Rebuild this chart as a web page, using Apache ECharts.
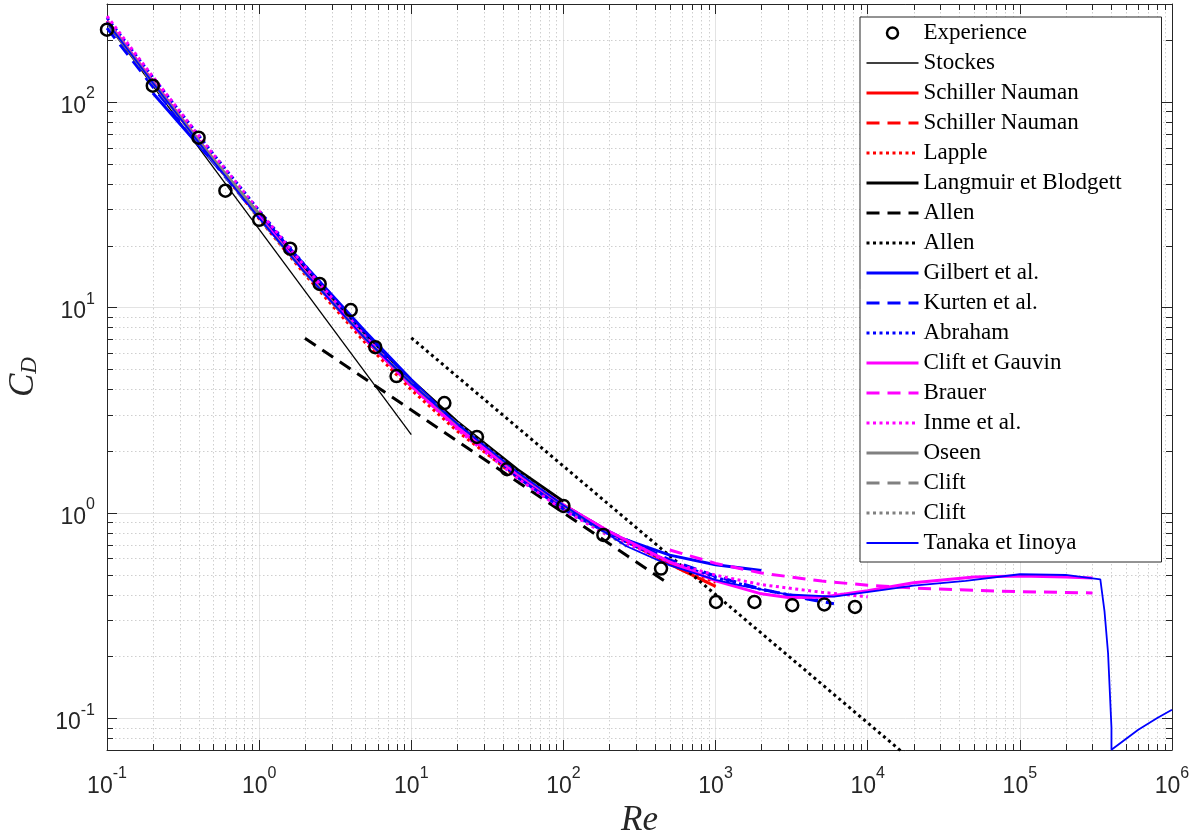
<!DOCTYPE html>
<html><head><meta charset="utf-8">
<script src="https://cdn.jsdelivr.net/npm/echarts@6/dist/echarts.min.js"></script>
<style>html,body{margin:0;padding:0;background:#fff}#c{width:1198px;height:835px}</style>
</head><body><div id="c"></div>
<script>
// ---- axis ranges and ticks ----
const xRange = [0.1, 1e6];
const yRange = [0.07, 300];
const xMinorTicks = [0.2,0.3,0.4,0.5,0.6,0.7,0.8,0.9, 2,3,4,5,6,7,8,9, 20,30,40,50,60,70,80,90,
  200,300,400,500,600,700,800,900, 2000,3000,4000,5000,6000,7000,8000,9000,
  20000,30000,40000,50000,60000,70000,80000,90000, 200000,300000,400000,500000,600000,700000,800000,900000];
const yMinorTicks = [0.08,0.09, 0.2,0.3,0.4,0.5,0.6,0.7,0.8,0.9, 2,3,4,5,6,7,8,9, 20,30,40,50,60,70,80,90, 200];

// ---- series data [Re, CD] ----
const experience = [[0.1,225],[0.2,120],[0.4,67],[0.6,37],[1,26.7],[1.6,19.3],[2.5,13],[4,9.7],[5.8,6.4],[8,4.63],[16.5,3.42],[27,2.34],[42.6,1.63],[100,1.08],[183,0.78],[438,0.535],[1007,0.368],[1800,0.368],[3190,0.355],[5180,0.358],[8250,0.348]];
const stokes = [[0.1,240],[10,2.4]];
const schillerSolid = [[0.1,247.4],[0.2,126],[0.5,52.5],[1,27.6],[2,14.9],[5,6.98],[10,4.15],[20,2.61],[50,1.54],[100,1.092],[200,0.806],[500,0.563],[1000,0.438]];
const schillerDashed = [[0.1,247.4],[0.2,126],[0.5,52.5],[1,27.6],[2,14.9],[5,6.98],[10,4.15],[20,2.61],[50,1.54],[100,1.092],[200,0.806],[500,0.563],[1000,0.438]];
const lapple = [[0.1,245.7],[0.2,124.7],[0.5,51.6],[1,27.0],[2,14.47],[5,6.71],[10,3.97],[20,2.50],[50,1.483],[100,1.066],[200,0.80],[500,0.575],[1000,0.458]];
const langmuir = [[1,28.7],[2,15.67],[5,7.42],[10,4.43],[20,2.78],[50,1.62],[100,1.136]];
const allenDashed = [[2,7.07],[500,0.447]];
const allenDotted = [[10,7.11],[20000,0.0615]];
const gilbert = [[0.2,110.5],[0.5,51],[1,28.5],[2,16.0],[5,7.61],[10,4.44],[20,2.68],[50,1.49],[100,1.04],[200,0.79],[500,0.622],[1000,0.559],[2000,0.524]];
const kurten = [[0.1,229],[0.2,118.7],[0.5,50.8],[1,27.3],[2,15.0],[5,7.16],[10,4.28],[20,2.67],[50,1.55],[100,1.09],[200,0.809],[500,0.59],[1000,0.491],[2000,0.425],[4000,0.38],[6000,0.361]];
const abraham = [[0.1,257],[0.2,132],[0.5,55.8],[1,29.6],[2,16.0],[5,7.46],[10,4.37],[20,2.68],[50,1.52],[100,1.06],[200,0.787],[500,0.577],[1000,0.484],[2000,0.423],[5000,0.372]];
const cliftGauvin = [[0.1,247.4],[0.2,126],[0.5,52.5],[1,27.6],[2,14.9],[5,6.98],[10,4.15],[20,2.61],[50,1.54],[100,1.094],[200,0.811],[500,0.576],[1000,0.466],[2000,0.403],[3000,0.387],[5000,0.388],[10000,0.417],[20000,0.456],[50000,0.487],[100000,0.492],[200000,0.487],[300000,0.482]];
const brauer = [[500,0.659],[1000,0.567],[2000,0.509],[5000,0.465],[10000,0.444],[20000,0.430],[50000,0.419],[100000,0.413],[300000,0.407]];
const inme = [[0.1,262],[0.2,133],[0.5,55.5],[1,29.5],[2,15.8],[5,7.2],[10,4.15],[20,2.55],[50,1.47],[100,1.03],[200,0.77],[500,0.575],[1000,0.497],[2000,0.447],[5000,0.41],[10000,0.39]];
const oseen = [[0.1,244.5],[0.2,124.5],[0.5,52.5],[1,28.5]];
const cliftDashed = [[0.1,244.3],[0.2,124],[0.5,51.5],[1,27.2],[2,14.76],[5,7.03],[10,4.26],[20,2.72]];
const cliftDotted = [[20,2.735],[50,1.574],[100,1.087],[200,0.776],[260,0.687]];
const tanaka = [[0.1,244.3],[0.2,124],[0.5,51.5],[1,27.2],[2,14.76],[5,7.03],[10,4.26],[20,2.72],[50,1.574],[100,1.087],[260,0.687],[500,0.555],[1000,0.471],[1500,0.441],[3000,0.400],[6000,0.391],[12000,0.419],[20000,0.442],[44000,0.466],[100000,0.502],[200000,0.498],[338000,0.474],[360000,0.332],[380000,0.207],[400000,0.0902],[400000,0.0702],[600000,0.0878],[800000,0.1003],[1000000,0.11]];

const names = ['Experience','Stockes','Schiller Nauman','Schiller Nauman\u200B','Lapple','Langmuir et Blodgett','Allen','Allen\u200B','Gilbert et al.','Kurten et al.','Abraham','Clift et Gauvin','Brauer','Inme et al.','Oseen','Clift','Clift\u200B','Tanaka et Iinoya'];

const DASH = [13, 8], DOT = [3, 3.5];
const RED = '#ff0000', BLK = '#000000', BLUE = '#0000ff', MAG = '#ff00ff', GRAY = '#808080';
const LW = 3;
const THIN = { 1: 1.3, 17: 1.8 };

function line(name, data, color, width, type) {
  return { type: 'line', name, data, symbol: 'none', clip: true, z: 3,
    lineStyle: { color, width, type, cap: 'butt' }, itemStyle: { color } };
}

const AX = '#262626';
function minorGrid(isX) {
  return {
    type: 'custom', name: isX ? '_mx' : '_my', silent: true, z: 1, clip: false,
    data: isX ? xMinorTicks.map(v => [v, 1]) : yMinorTicks.map(v => [1, v]),
    renderItem: (params, api) => {
      const r = params.coordSys;
      const p = api.coord([api.value(0), api.value(1)]);
      if (isX) {
        const x = Math.round(p[0]) + 0.5;
        return { type: 'group', children: [
          { type: 'line', shape: { x1: x, y1: r.y, x2: x, y2: r.y + r.height }, style: { stroke: '#cfcfcf', lineWidth: 1, lineDash: [1.5, 2.5] } },
          { type: 'line', shape: { x1: x, y1: r.y + r.height, x2: x, y2: r.y + r.height - 6 }, style: { stroke: AX, lineWidth: 1 } },
          { type: 'line', shape: { x1: x, y1: r.y, x2: x, y2: r.y + 6 }, style: { stroke: AX, lineWidth: 1 } }
        ]};
      } else {
        const y = Math.round(p[1]) + 0.5;
        return { type: 'group', children: [
          { type: 'line', shape: { x1: r.x, y1: y, x2: r.x + r.width, y2: y }, style: { stroke: '#cfcfcf', lineWidth: 1, lineDash: [1.5, 2.5] } },
          { type: 'line', shape: { x1: r.x, y1: y, x2: r.x + 6, y2: y }, style: { stroke: AX, lineWidth: 1 } },
          { type: 'line', shape: { x1: r.x + r.width, y1: y, x2: r.x + r.width - 6, y2: y }, style: { stroke: AX, lineWidth: 1 } }
        ]};
      }
    }
  };
}

function powLabel(v) {
  const e = Math.log10(v); const r = Math.round(e);
  if (Math.abs(e - r) > 1e-6) return '';
  return '{b|10}{s|' + r + '}';
}
const labelRich = {
  b: { fontSize: 23, fontFamily: 'Liberation Sans', color: AX, lineHeight: 32, verticalAlign: 'bottom' },
  s: { fontSize: 16, fontFamily: 'Liberation Sans', color: AX, lineHeight: 16, verticalAlign: 'top' }
};

function axisCommon(extra) {
  return Object.assign({
    type: 'log', logBase: 10,
    axisLine: { show: true, onZero: false, lineStyle: { color: AX, width: 1 } },
    axisTick: { show: true, inside: true, length: 10, lineStyle: { color: AX, width: 1 } },
    minorTick: { show: false }, splitLine: { show: false }
  }, extra);
}

const legendData = names.map((n, i) => i === 0
  ? { name: n, itemStyle: { color: 'rgba(0,0,0,0)', borderColor: '#000', borderWidth: 2.5 } }
  : { name: n, itemStyle: { opacity: 0 }, lineStyle: { width: THIN[i] || LW } });

const option = {
  animation: false,
  backgroundColor: '#ffffff',
  grid: { left: 107, right: 26, top: 4, bottom: 85, containLabel: false, outerBoundsMode: 'none' },
  xAxis: [
    axisCommon({ min: xRange[0], max: xRange[1], position: 'bottom',
      splitLine: { show: true, lineStyle: { color: '#e3e3e3', width: 1 } },
      axisLabel: { formatter: powLabel, rich: labelRich, margin: 16 },
      name: 'Re', nameLocation: 'middle', nameGap: 50,
      nameTextStyle: { fontFamily: 'Liberation Serif', fontStyle: 'italic', fontSize: 35, color: AX } }),
    axisCommon({ min: xRange[0], max: xRange[1], position: 'top', axisLabel: { show: false } })
  ],
  yAxis: [
    axisCommon({ min: yRange[0], max: yRange[1], position: 'left',
      splitLine: { show: true, lineStyle: { color: '#e3e3e3', width: 1 } },
      axisLabel: { formatter: powLabel, rich: labelRich, margin: 12 },
      name: '{c|C}{d|D}', nameLocation: 'middle', nameGap: 66, nameRotate: 90,
      nameTextStyle: { rich: {
        c: { fontFamily: 'Liberation Serif', fontStyle: 'italic', fontSize: 35, color: AX, lineHeight: 35, verticalAlign: 'top' },
        d: { fontFamily: 'Liberation Serif', fontStyle: 'italic', fontSize: 23, color: AX, lineHeight: 24, verticalAlign: 'bottom', padding: [14, 0, 0, 0] }
      } } }),
    axisCommon({ min: yRange[0], max: yRange[1], position: 'right', axisLabel: { show: false } })
  ],
  legend: {
    data: legendData, orient: 'vertical', left: 860, top: 17, itemGap: 0,
    itemWidth: 52, itemHeight: 11, selectedMode: false,
    padding: [1, 6, 4, 5], backgroundColor: '#ffffff', borderColor: AX, borderWidth: 1, borderRadius: 0,
    textStyle: { fontFamily: 'Liberation Serif', fontSize: 23, color: '#000', lineHeight: 30, width: 232 }
  },
  series: [
    minorGrid(true), minorGrid(false),
    { type: 'scatter', name: names[0], data: experience, symbol: 'circle', symbolSize: 12, z: 3,
      itemStyle: { color: 'rgba(0,0,0,0)', borderColor: '#000', borderWidth: 2.5, opacity: 1 } },
    line(names[1], stokes, BLK, 1.3, 'solid'),
    line(names[2], schillerSolid, RED, LW, 'solid'),
    line(names[3], schillerDashed, RED, LW, DASH),
    line(names[4], lapple, RED, LW, DOT),
    line(names[5], langmuir, BLK, LW, 'solid'),
    line(names[6], allenDashed, BLK, LW, DASH),
    line(names[7], allenDotted, BLK, LW, DOT),
    line(names[8], gilbert, BLUE, LW, 'solid'),
    line(names[9], kurten, BLUE, LW, DASH),
    line(names[10], abraham, BLUE, LW, DOT),
    line(names[11], cliftGauvin, MAG, LW, 'solid'),
    line(names[12], brauer, MAG, LW, DASH),
    line(names[13], inme, MAG, LW, DOT),
    line(names[14], oseen, GRAY, LW, 'solid'),
    line(names[15], cliftDashed, GRAY, LW, DASH),
    line(names[16], cliftDotted, GRAY, LW, DOT),
    line(names[17], tanaka, BLUE, 1.8, 'solid')
  ]
};
const chart = echarts.init(document.getElementById('c'), null, { renderer: 'canvas' });
chart.setOption(option);
</script>
</body></html>
